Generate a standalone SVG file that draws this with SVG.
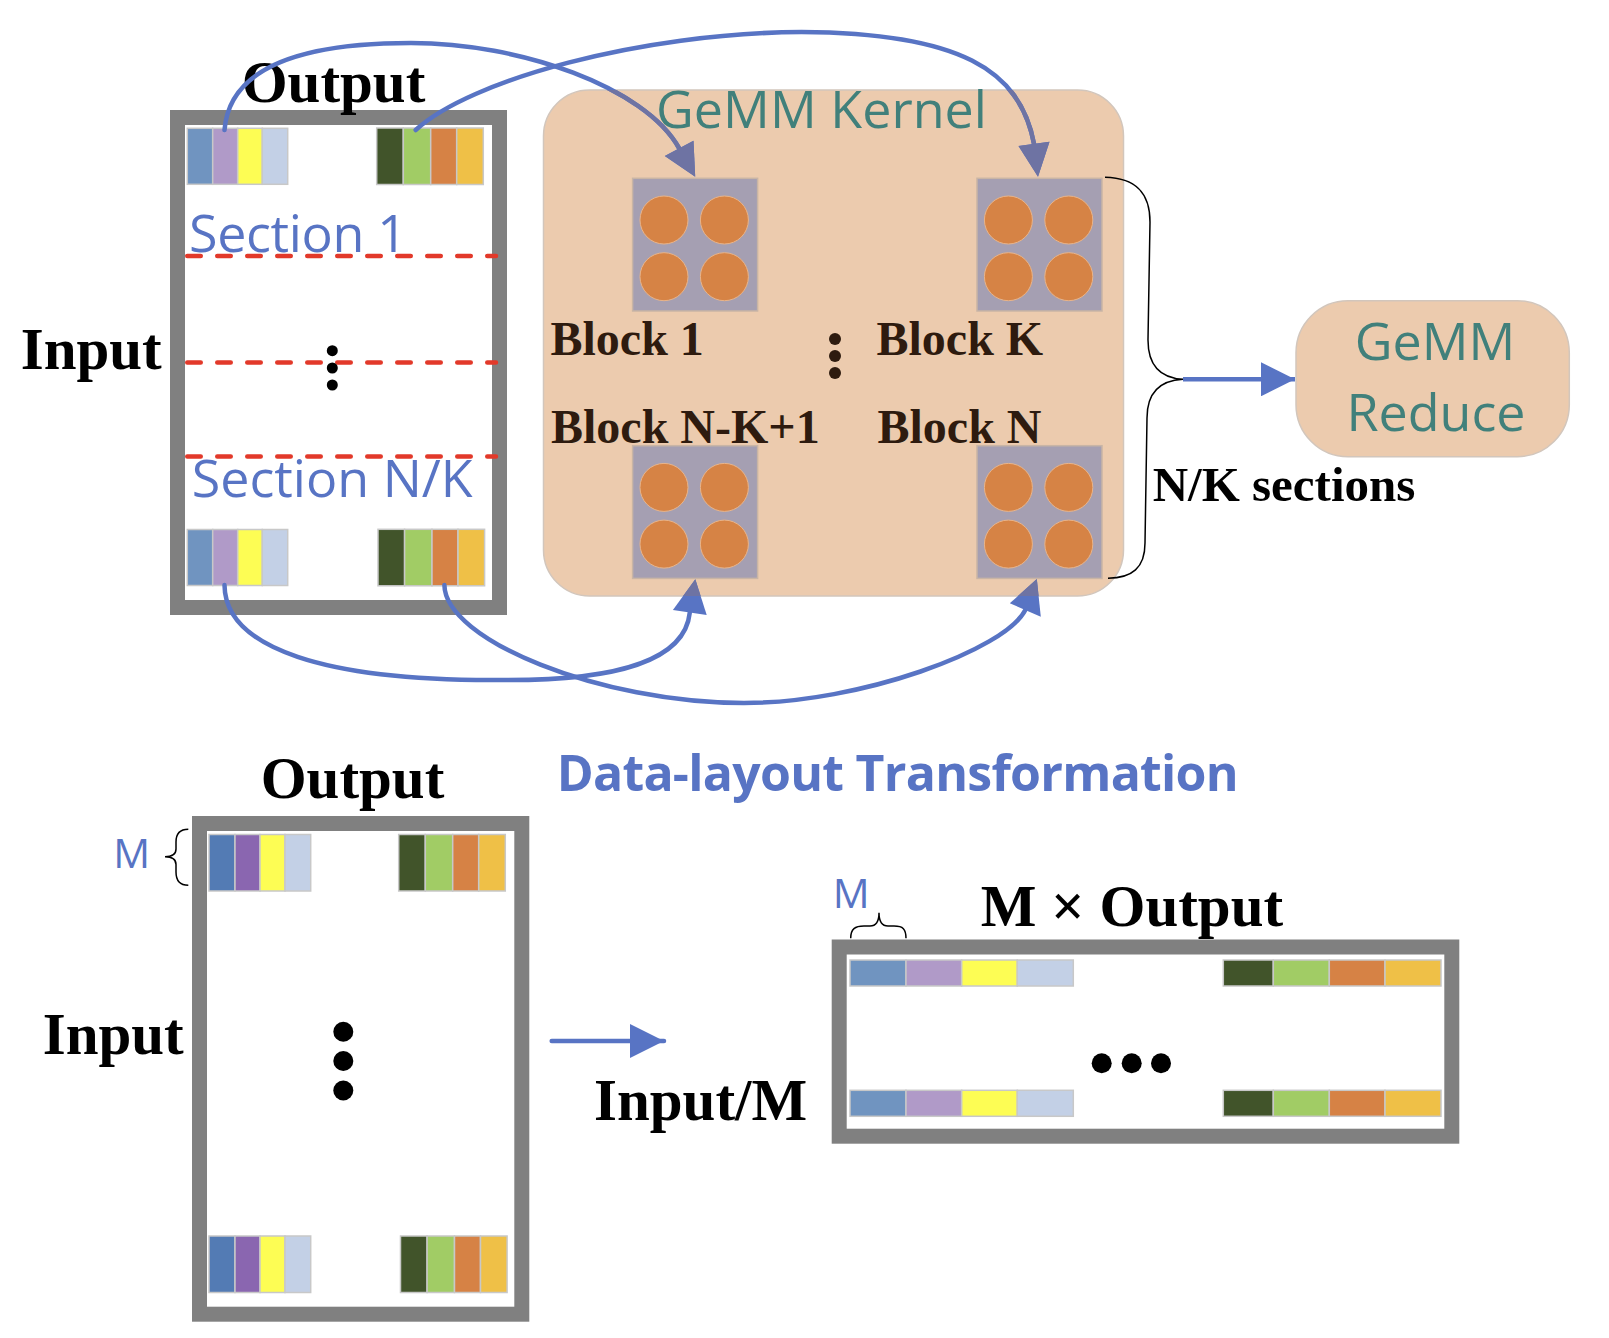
<svg xmlns="http://www.w3.org/2000/svg" xmlns:xlink="http://www.w3.org/1999/xlink" width="1609" height="1338" viewBox="0 0 1609 1338">
<style>
.frame{fill:#fff;stroke:#808080;stroke-width:15}
.cell{stroke:#c8c8c8;stroke-width:1.5}
.ttl{font-family:"Liberation Serif","Times New Roman",serif;font-weight:bold;fill:#000;font-size:59px}
.blk{font-family:"Liberation Serif","Times New Roman",serif;font-weight:bold;fill:#2e1b0f;font-size:48px}
.nk{font-family:"Liberation Serif","Times New Roman",serif;font-weight:bold;fill:#000;font-size:49px}
.sans{font-family:"Open Sans","Liberation Sans",sans-serif}
.sec{fill:#5874c4;font-size:52px}
.mlab{fill:#5874c4;font-size:41px}
.teal{fill:#41807b;font-size:52px}
.hdr{fill:#5874c4;font-size:50px;font-weight:bold}
.dash{stroke:#e2392a;stroke-width:4.5;stroke-dasharray:13.5 16.5;stroke-linecap:round}
.box{fill:#eccbae;stroke:#d2c6bc;stroke-width:1.5}
.bsq{fill:#a59fb2;stroke:#c9b5a5;stroke-width:1.5}
.orb{fill:#d68345;stroke:#e9b489;stroke-width:1}
.arc{fill:none;stroke-width:4.5;stroke-linecap:round}
.head{stroke:none}
.straight{stroke:#5874c4;stroke-width:4.5;fill:none}
.brace{fill:none;stroke:#000;stroke-width:1.5}
</style>
<defs>
  <marker id="ah" viewBox="0 0 34 34" markerWidth="34" markerHeight="34" refX="34" refY="17" orient="auto" markerUnits="userSpaceOnUse">
    <path d="M0,0 L34,17 L0,34 Z" fill="#5874c4"/>
  </marker>
  <clipPath id="kclip"><rect x="543.5" y="90" width="580" height="506" rx="46"/></clipPath>
  <g id="blockShape">
    <rect class="bsq" x="0" y="0" width="125" height="132.7"/>
    <circle class="orb" cx="31.4" cy="41.7" r="24"/>
    <circle class="orb" cx="91.8" cy="41.7" r="24"/>
    <circle class="orb" cx="31.4" cy="98.4" r="24"/>
    <circle class="orb" cx="91.8" cy="98.4" r="24"/>
  </g>
  <g id="cellsL">
    <rect class="cell" x="0" y="0" width="25.4" height="56" fill="#7094c0"/>
    <rect class="cell" x="25.4" y="0" width="25" height="56" fill="#b09ac8"/>
    <rect class="cell" x="50.4" y="0" width="24.6" height="56" fill="#fdfd54"/>
    <rect class="cell" x="75" y="0" width="25.4" height="56" fill="#c3d0e6"/>
  </g>
  <g id="cellsL2">
    <rect class="cell" x="0" y="0" width="26" height="56.5" fill="#537bb4"/>
    <rect class="cell" x="26" y="0" width="25" height="56.5" fill="#8a66b0"/>
    <rect class="cell" x="51" y="0" width="25" height="56.5" fill="#fdfd54"/>
    <rect class="cell" x="76" y="0" width="25.7" height="56.5" fill="#c3d0e6"/>
  </g>
  <g id="cellsR">
    <rect class="cell" x="0" y="0" width="26.6" height="56.5" fill="#41542a"/>
    <rect class="cell" x="26.6" y="0" width="27.4" height="56.5" fill="#a1cc65"/>
    <rect class="cell" x="54" y="0" width="26" height="56.5" fill="#d68245"/>
    <rect class="cell" x="80" y="0" width="26.6" height="56.5" fill="#efc047"/>
  </g>
  <g id="stripL">
    <rect class="cell" x="0" y="0" width="56" height="26" fill="#7094c0"/>
    <rect class="cell" x="56" y="0" width="55.7" height="26" fill="#b09ac8"/>
    <rect class="cell" x="111.7" y="0" width="55.6" height="26" fill="#fdfd54"/>
    <rect class="cell" x="167.3" y="0" width="56" height="26" fill="#c3d0e6"/>
  </g>
  <g id="stripR">
    <rect class="cell" x="0" y="0" width="50" height="26" fill="#41542a"/>
    <rect class="cell" x="50" y="0" width="56" height="26" fill="#a1cc65"/>
    <rect class="cell" x="106" y="0" width="55.7" height="26" fill="#d68245"/>
    <rect class="cell" x="161.7" y="0" width="56" height="26" fill="#efc047"/>
  </g>
</defs>

<rect x="0" y="0" width="1609" height="1338" fill="#fff"/>

<!-- Top input/output matrix -->
<g id="matrix-top">
  <rect class="frame" x="177.5" y="117.5" width="322" height="490"/>
  <use href="#cellsL" x="187.3" y="128.3"/>
  <use href="#cellsR" x="376.7" y="128"/>
  <use href="#cellsL" x="187.3" y="529.5"/>
  <use href="#cellsR" x="378" y="529.3"/>
  <text class="sans sec" x="189" y="252" textLength="218">Section 1</text>
  <text class="sans sec" x="191.7" y="496.7" textLength="281">Section N/K</text>
  <line class="dash" x1="187.25" y1="256" x2="496" y2="256"/>
  <line class="dash" x1="187.25" y1="362.5" x2="496" y2="362.5"/>
  <line class="dash" x1="187.25" y1="456.5" x2="496" y2="456.5"/>
  <circle cx="332.3" cy="350.7" r="5.5"/>
  <circle cx="332.3" cy="368" r="5.5"/>
  <circle cx="332.3" cy="385" r="5.5"/>
  <text class="ttl" x="241.7" y="101.7">Output</text>
  <text class="ttl" x="20.7" y="369.3">Input</text>
</g>

<!-- GeMM kernel -->
<g id="gemm-kernel">
  <rect class="box" x="543.5" y="90" width="580" height="506" rx="46"/>
  <text class="sans teal" x="656" y="128.3" textLength="331">GeMM Kernel</text>
  <circle cx="835" cy="339" r="6" fill="#2e1b0f"/>
  <circle cx="835" cy="356" r="6" fill="#2e1b0f"/>
  <circle cx="835" cy="373" r="6" fill="#2e1b0f"/>
</g>
<g id="block-1">
  <use href="#blockShape" x="632.6" y="178.3"/>
  <text class="blk" x="550.5" y="355">Block 1</text>
</g>
<g id="block-k">
  <use href="#blockShape" x="977" y="178.3"/>
  <text class="blk" x="876.5" y="355">Block K</text>
</g>
<g id="block-nk1">
  <use href="#blockShape" x="632.6" y="445.7"/>
  <text class="blk" x="551" y="443.3">Block N-K+1</text>
</g>
<g id="block-n">
  <use href="#blockShape" x="977" y="445.7"/>
  <text class="blk" x="877.5" y="443.3">Block N</text>
</g>

<!-- N/K sections brace -->
<g id="nk-brace">
  <path class="brace" d="M1105,177.3 C1138,178 1150,195 1150,222 L1148,340 C1148,366 1160,378 1183,379.3 C1160,380.5 1147,392 1147,418 L1145,543 C1145,568 1132,578 1108,578.3"/>
  <text class="nk" x="1152.7" y="500.7">N/K sections</text>
</g>

<!-- GeMM reduce -->
<g id="gemm-reduce">
  <rect class="box" x="1296" y="300.7" width="273.3" height="156" rx="52"/>
  <text class="sans teal" x="1435" y="360" text-anchor="middle">GeMM</text>
  <text class="sans teal" x="1436" y="430.7" text-anchor="middle">Reduce</text>
</g>

<!-- Bottom: Data-layout transformation -->
<g id="title-transform">
  <text class="sans hdr" x="556.7" y="791" textLength="682">Data-layout Transformation</text>
</g>

<g id="matrix-bottom">
  <rect class="frame" x="199.5" y="823.5" width="322.3" height="490.7"/>
  <use href="#cellsL2" x="209" y="834.5"/>
  <use href="#cellsR" x="398.7" y="834.5"/>
  <use href="#cellsL2" x="209" y="1236"/>
  <use href="#cellsR" x="400.5" y="1236"/>
  <circle cx="343.3" cy="1031.7" r="10"/>
  <circle cx="343.3" cy="1061" r="10"/>
  <circle cx="343.3" cy="1090.5" r="10"/>
  <text class="ttl" x="260.7" y="798.3">Output</text>
  <text class="ttl" x="42.7" y="1054">Input</text>
  <text class="sans mlab" x="113.3" y="868.3">M</text>
  <path class="brace" d="M188.3,829.3 C180,829.3 176,834 176,842 L176,849 C176,854 172,856.7 165,856.7 C172,856.7 176,859.5 176,864.5 L176,872 C176,880 180,885.3 188.3,885.3"/>
</g>

<g id="matrix-reshaped">
  <rect class="frame" x="839.2" y="947" width="612.6" height="189.2"/>
  <use href="#stripL" x="850" y="960"/>
  <use href="#stripR" x="1223.3" y="960"/>
  <use href="#stripL" x="850" y="1090.3"/>
  <use href="#stripR" x="1223.3" y="1090.3"/>
  <circle cx="1101.7" cy="1063.3" r="10"/>
  <circle cx="1131.7" cy="1063.3" r="10"/>
  <circle cx="1161" cy="1063.3" r="10"/>
  <text class="ttl" x="980.7" y="926">M × Output</text>
  <text class="sans mlab" x="832.7" y="907.7">M</text>
  <path class="brace" d="M850.7,938.3 C850.7,929 855,926 864,926 L870,926 C876,926 879,922 879,912.7 C879,922 882,926 888,926 L894,926 C903,926 906,929 906,938.3"/>
  <text class="ttl" x="594" y="1120">Input/M</text>
</g>

<!-- Connectors -->
<g id="connectors">
  <g id="flows" fill="#5874c4" stroke="#5874c4">
    <g id="c-out1">
      <path class="arc" d="M224.5,130 C230,60 320,43 411,43 C520,43 645,87 679.2,148.4"/>
      <polygon class="head" points="664.8,156 693.5,140.7 695.2,176.7"/>
    </g>
    <g id="c-out2">
      <path class="arc" d="M415.7,130 C470,80 640,33 801.5,32 C960,33 1020,70 1034,143.8"/>
      <polygon class="head" points="1018.5,146 1049.5,141.7 1038,176.7"/>
    </g>
    <g id="c-in1">
      <path class="arc" d="M224.5,585 C225,650 330,680 491.5,680 C620,682 685,660 689.8,612.5"/>
      <polygon class="head" points="672.9,610 706.7,615 695.3,579.3"/>
    </g>
    <g id="c-in2">
      <path class="arc" d="M444.4,585 C445,640 600,703 744,703 C860,703 1005,650 1025.3,610"/>
      <polygon class="head" points="1009.8,603.3 1040.8,616.7 1036.8,579"/>
    </g>
  </g>
  <g id="flows-in-kernel" clip-path="url(#kclip)" fill="#6e73a3" stroke="#6e73a3">
    <use href="#c-out1"/>
    <use href="#c-out2"/>
    <use href="#c-in1"/>
    <use href="#c-in2"/>
  </g>
  <line id="c-reduce" class="straight" x1="1183" y1="379.3" x2="1295" y2="379.3" marker-end="url(#ah)"/>
  <line id="c-transform" class="straight" stroke-linecap="round" x1="551.7" y1="1041" x2="664" y2="1041" marker-end="url(#ah)"/>
</g>
</svg>
